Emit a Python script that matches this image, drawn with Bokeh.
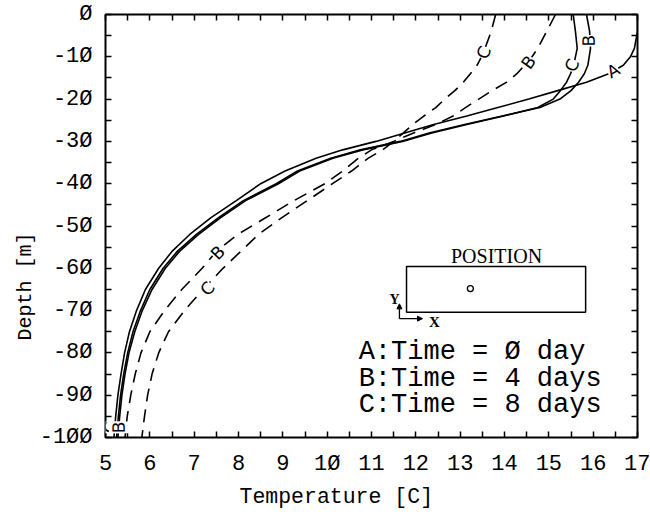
from bokeh.plotting import figure
from bokeh.models import (FixedTicker, LinearAxis, Label, Range1d, Arrow,
                          NormalHead, Title)
from bokeh.embed import file_html
from bokeh.resources import INLINE

# Depth levels (m) shared by all profiles
depth = [0, -4, -8, -10, -12, -14, -16, -18, -20, -22, -24, -26, -28, -30,
         -32, -34, -37, -40, -44, -48, -52, -56, -60, -65, -70, -75, -80,
         -85, -90, -95, -100]

# Temperature profiles (deg C), solid = case 1, dashed = case 2
temp_a = [17.0, 17.0, 16.93, 16.84, 16.68, 16.35, 15.85, 15.2, 14.55, 13.85,
          13.15, 12.4, 11.75, 11.1, 10.35, 9.75, 9.05, 8.5, 7.95, 7.38, 6.9,
          6.5, 6.2, 5.9, 5.7, 5.54, 5.43, 5.35, 5.28, 5.23, 5.19]
temp_b = [15.85, 15.92, 15.94, 15.91, 15.88, 15.8, 15.67, 15.5, 15.25, 14.8,
          13.95, 13.1, 12.3, 11.65, 10.75, 10.08, 9.33, 8.85, 8.11, 7.55,
          7.05, 6.62, 6.3, 6.0, 5.79, 5.62, 5.5, 5.41, 5.34, 5.29, 5.25]
temp_c = [15.55, 15.6, 15.64, 15.6, 15.56, 15.49, 15.4, 15.26, 15.1, 14.75,
          13.98, 13.15, 12.36, 11.7, 10.8, 10.13, 9.38, 8.9, 8.16, 7.6, 7.1,
          6.67, 6.35, 6.05, 5.83, 5.66, 5.53, 5.44, 5.37, 5.32, 5.28]
temp_b2 = [15.15, 14.95, 14.75, 14.62, 14.45, 14.28, 14.05, 13.72, 13.42,
           13.12, 12.84, 12.45, 11.95, 11.5, 11.0, 10.7, 10.35, 9.95, 9.25,
           8.62, 7.98, 7.5, 7.18, 6.72, 6.33, 6.0, 5.8, 5.67, 5.57, 5.49, 5.44]
temp_c2 = [13.8, 13.7, 13.56, 13.48, 13.38, 13.23, 13.07, 12.88, 12.65,
           12.45, 12.18, 11.93, 11.72, 11.5, 11.25, 10.92, 10.55, 10.12, 9.55,
           8.98, 8.45, 8.05, 7.65, 7.2, 6.78, 6.42, 6.2, 6.05, 5.95, 5.88, 5.82]

x_ticks = list(range(5, 18))
x_minor = [t + 0.5 for t in range(5, 17)]
y_ticks = list(range(-100, 1, 10))
y_minor = list(range(-95, 0, 10))
x_tick_labels = [str(t).replace("0", "\u00d8") for t in x_ticks]
y_tick_labels = [str(t).replace("0", "\u00d8") for t in y_ticks]

x_title = "Temperature [C]"
y_title = "Depth [m]"
legend_lines = ["A:Time = \u00d8 day", "B:Time = 4 days", "C:Time = 8 days"]

MONO = "Liberation Mono"

p = figure(width=650, height=518, output_backend="svg", toolbar_location=None,
           x_range=Range1d(5, 17), y_range=Range1d(-100, 0),
           min_border_left=105, min_border_right=13, min_border_top=14,
           min_border_bottom=81)
p.xgrid.visible = False
p.ygrid.visible = False
p.outline_line_color = "black"
p.outline_line_width = 2
p.background_fill_color = "white"
p.border_fill_color = "white"

xt = FixedTicker(ticks=x_ticks, minor_ticks=x_minor)
yt = FixedTicker(ticks=y_ticks, minor_ticks=y_minor)


def style_axis(ax):
    ax.axis_line_color = None
    ax.major_tick_in = 6
    ax.major_tick_out = 0
    ax.minor_tick_in = 6
    ax.minor_tick_out = 0
    ax.major_tick_line_color = "black"
    ax.minor_tick_line_color = "black"
    ax.major_tick_line_width = 1.5
    ax.minor_tick_line_width = 1.5


xa = p.xaxis[0]
xa.ticker = xt
style_axis(xa)
xa.major_label_overrides = {t: s for t, s in zip(x_ticks, x_tick_labels)}
xa.major_label_text_font = MONO
xa.major_label_text_font_size = "22px"
xa.major_label_text_color = "black"
xa.major_label_standoff = 14

ya = p.yaxis[0]
ya.ticker = yt
style_axis(ya)
ya.major_label_overrides = {t: s for t, s in zip(y_ticks, y_tick_labels)}
ya.major_label_text_font = MONO
ya.major_label_text_font_size = "22px"
ya.major_label_text_color = "black"
ya.major_label_standoff = 13

# Tick marks on the top and right edges of the frame, no labels
top_axis = LinearAxis(ticker=xt,
                      major_label_overrides={t: "" for t in x_ticks},
                      major_label_standoff=0)
style_axis(top_axis)
p.add_layout(top_axis, "above")
right_axis = LinearAxis(ticker=yt,
                        major_label_overrides={t: "" for t in y_ticks},
                        major_label_standoff=0)
style_axis(right_axis)
p.add_layout(right_axis, "right")

# Axis titles, set off-centre below and left of the frame
p.add_layout(Title(text=x_title, align="left", offset=134, standoff=6,
                   text_font=MONO, text_font_size="21.5px",
                   text_font_style="normal", text_color="black"), "below")
p.add_layout(Title(text=y_title, align="left", offset=97, standoff=0,
                   text_font=MONO, text_font_size="20px",
                   text_font_style="normal", text_color="black"), "left")

# Profiles
LW = 1.6
DASH = "13 8"
p.line(temp_a, depth, line_color="black", line_width=LW)
p.line(temp_b, depth, line_color="black", line_width=LW)
p.line(temp_c, depth, line_color="black", line_width=LW)
p.line(temp_b2, depth, line_color="black", line_width=LW, line_dash=DASH)
p.line(temp_c2, depth, line_color="black", line_width=LW, line_dash=DASH)

# Letters written along the curves
curve_labels = [
    ("A", 16.45, -13.3, 0.5),
    ("B", 15.9, -6.2, 1.57),
    ("C", 15.52, -12.0, 1.15),
    ("B", 14.54, -11.3, 0.95),
    ("C", 13.53, -9.0, 1.15),
    ("B", 7.53, -56.3, 0.8),
    ("C", 7.3, -64.8, 0.85),
    ("C", 5.12, -97.6, 1.57),
    ("B", 5.3, -97.6, 1.57),
]
for txt, x, y, ang in curve_labels:
    p.add_layout(Label(x=x, y=y, text=txt, angle=ang, text_align="center",
                       text_baseline="middle", text_font="DejaVu Sans",
                       text_font_size="17px", text_color="black",
                       background_fill_color="white"))

# Station position inset
p.quad(left=[11.79], right=[15.83], bottom=[-70.4], top=[-59.6],
       fill_color=None, line_color="black", line_width=1.5)
p.scatter([13.23], [-64.8], size=6, marker="circle", fill_color="white",
          line_color="black", line_width=1.3)
p.add_layout(Label(x=13.82, y=-57.2, text="POSITION", text_align="center",
                   text_baseline="middle", text_font="Liberation Serif",
                   text_font_size="20px", text_color="black"))
p.add_layout(Arrow(x_start=11.63, y_start=-71.9, x_end=11.63, y_end=-68.4,
                   line_width=1.3,
                   end=NormalHead(size=5, fill_color="black",
                                  line_color="black")))
p.add_layout(Arrow(x_start=11.63, y_start=-71.9, x_end=12.15, y_end=-71.9,
                   line_width=1.3,
                   end=NormalHead(size=5, fill_color="black",
                                  line_color="black")))
p.add_layout(Label(x=11.52, y=-67.4, text="Y", text_align="center",
                   text_baseline="middle", text_font="Liberation Serif",
                   text_font_size="14px", text_font_style="bold",
                   text_color="black"))
p.add_layout(Label(x=12.42, y=-72.6, text="X", text_align="center",
                   text_baseline="middle", text_font="Liberation Serif",
                   text_font_size="15px", text_font_style="bold",
                   text_color="black"))

# Legend text
for i, line in enumerate(legend_lines):
    p.add_layout(Label(x=10.71, y=-79.9 - 6.25 * i, text=line,
                       text_align="left", text_baseline="middle",
                       text_font=MONO, text_font_size="27px",
                       text_color="black"))

open("out.html", "w").write(file_html(p, INLINE))
